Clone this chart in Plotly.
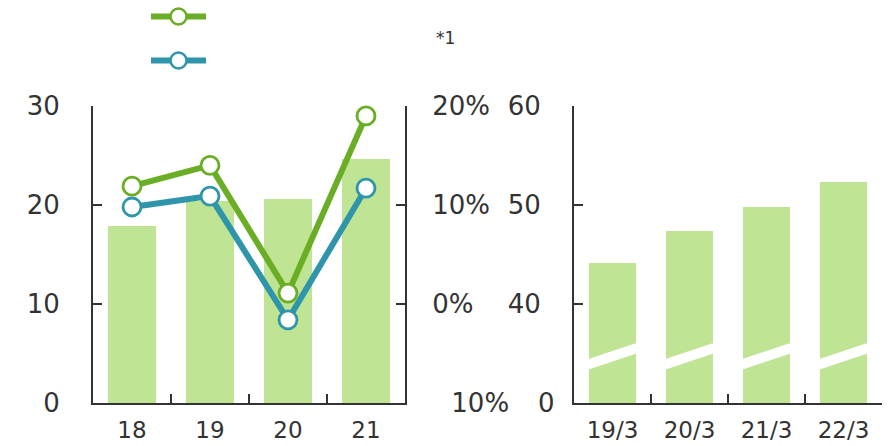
import plotly.graph_objects as go

# ---- data ----
years = ["18", "19", "20", "21"]
sales = [17.9, 20.4, 20.6, 24.6]            # bars, left axis
margin_green = [11.9, 14.0, 1.1, 19.0]      # %, right axis
margin_blue = [9.8, 10.9, -1.6, 11.7]       # %, right axis

periods = ["19/3", "20/3", "21/3", "22/3"]
assets = [44.1, 47.4, 49.8, 52.3]

left_ticks = [0, 10, 20, 30]
pct_ticks = [-10, 0, 10, 20]
pct_labels = ["\u00a0\u00a0\u200a10%", "0%", "10%", "20%"]
right_ticks = [40, 50, 60]

# ---- styles ----
W, H = 893, 446
BAR = "#bfe594"
GREEN = "#69ae24"
BLUE = "#2e95aa"
INK = "#333333"
FONT = "DejaVu Sans, sans-serif"
LINE_W = 6


def px_x(p):
    return p / W


def px_y(p):
    return 1 - p / H


y_dom = [px_y(403), px_y(106)]

fig = go.Figure()

fig.add_trace(go.Bar(x=years, y=sales, marker=dict(color=BAR, line=dict(width=0)),
                     width=0.62, xaxis="x", yaxis="y", showlegend=False))

for vals, col in ((margin_green, GREEN), (margin_blue, BLUE)):
    fig.add_trace(go.Scatter(
        x=years, y=vals, mode="lines+markers", xaxis="x", yaxis="y2",
        line=dict(color=col, width=LINE_W),
        marker=dict(size=18, color="white", line=dict(color=col, width=2.8)),
        cliponaxis=False, showlegend=False))

fig.add_trace(go.Bar(x=periods, y=assets, marker=dict(color=BAR, line=dict(width=0)),
                     width=0.62, xaxis="x2", yaxis="y3", showlegend=False))

# legend keys: a short bar of line colour with a hollow circle in the middle
for yv, col in ((1, GREEN), (0, BLUE)):
    fig.add_trace(go.Scatter(x=[0, 1], y=[yv, yv], mode="lines", xaxis="x3", yaxis="y4",
                             line=dict(color=col, width=LINE_W),
                             showlegend=False, hoverinfo="skip"))
    fig.add_trace(go.Scatter(x=[0.5], y=[yv], mode="markers", xaxis="x3", yaxis="y4",
                             marker=dict(size=16, color="white", line=dict(color=col, width=2.5)),
                             cliponaxis=False, showlegend=False, hoverinfo="skip"))

# axis-break stripes across the asset bars
shapes = []
for i in range(len(periods)):
    shapes.append(dict(type="line", xref="x2", yref="y3",
                       x0=i - 0.32, x1=i + 0.32, y0=33.9, y1=35.55,
                       line=dict(color="white", width=10)))

axis_common = dict(showline=True, linecolor=INK, linewidth=2, showgrid=False,
                   zeroline=False, ticks="inside", tickcolor=INK, tickwidth=2,
                   ticklen=9, automargin=False)
x_common = dict(axis_common, type="category", range=[-0.5, 3.5], tickson="boundaries",
                tickfont=dict(family=FONT, size=23, color=INK), ticklabelstandoff=5)
y_font = dict(family=FONT, size=26, color=INK)

fig.update_layout(
    width=W, height=H, margin=dict(l=0, r=0, t=0, b=0, autoexpand=False),
    paper_bgcolor="white", plot_bgcolor="white",
    font=dict(family=FONT, color=INK),
    bargap=0,
    xaxis=dict(x_common, domain=[px_x(93), px_x(405)], anchor="y"),
    yaxis=dict(axis_common, domain=y_dom, range=[0, 30], tickvals=left_ticks,
               tickfont=y_font, anchor="x", ticklabelstandoff=26),
    yaxis2=dict(axis_common, domain=y_dom, range=[-10, 20], tickvals=pct_ticks,
                ticktext=pct_labels, tickfont=y_font, overlaying="y", side="right",
                anchor="x", ticklabelstandoff=20),
    xaxis2=dict(x_common, domain=[px_x(574), px_x(882)], anchor="y3"),
    yaxis3=dict(axis_common, domain=y_dom, range=[30, 60], tickvals=right_ticks,
                tickfont=y_font, anchor="x2", ticklabelstandoff=26),
    # legend-key area: 0..1 spans 151..206 px across and 60.5..16.5 px down
    xaxis3=dict(domain=[px_x(151 - 5.5), px_x(206 + 5.5)], range=[-0.1, 1.1],
                visible=False, anchor="y4", automargin=False),
    yaxis4=dict(domain=[px_y(71.5), px_y(5.5)], range=[-0.25, 1.25], visible=False,
                anchor="x3", automargin=False),
    shapes=shapes,
    annotations=[
        dict(text="*1", xref="paper", yref="paper", x=px_x(434), y=px_y(38),
             xanchor="left", yanchor="middle", showarrow=False,
             font=dict(family=FONT, size=17, color=INK)),
        dict(text="0", xref="paper", yref="y3", x=px_x(557), y=30,
             xanchor="right", yanchor="middle", showarrow=False, font=y_font),
    ],
)

fig.write_html("out.html")
